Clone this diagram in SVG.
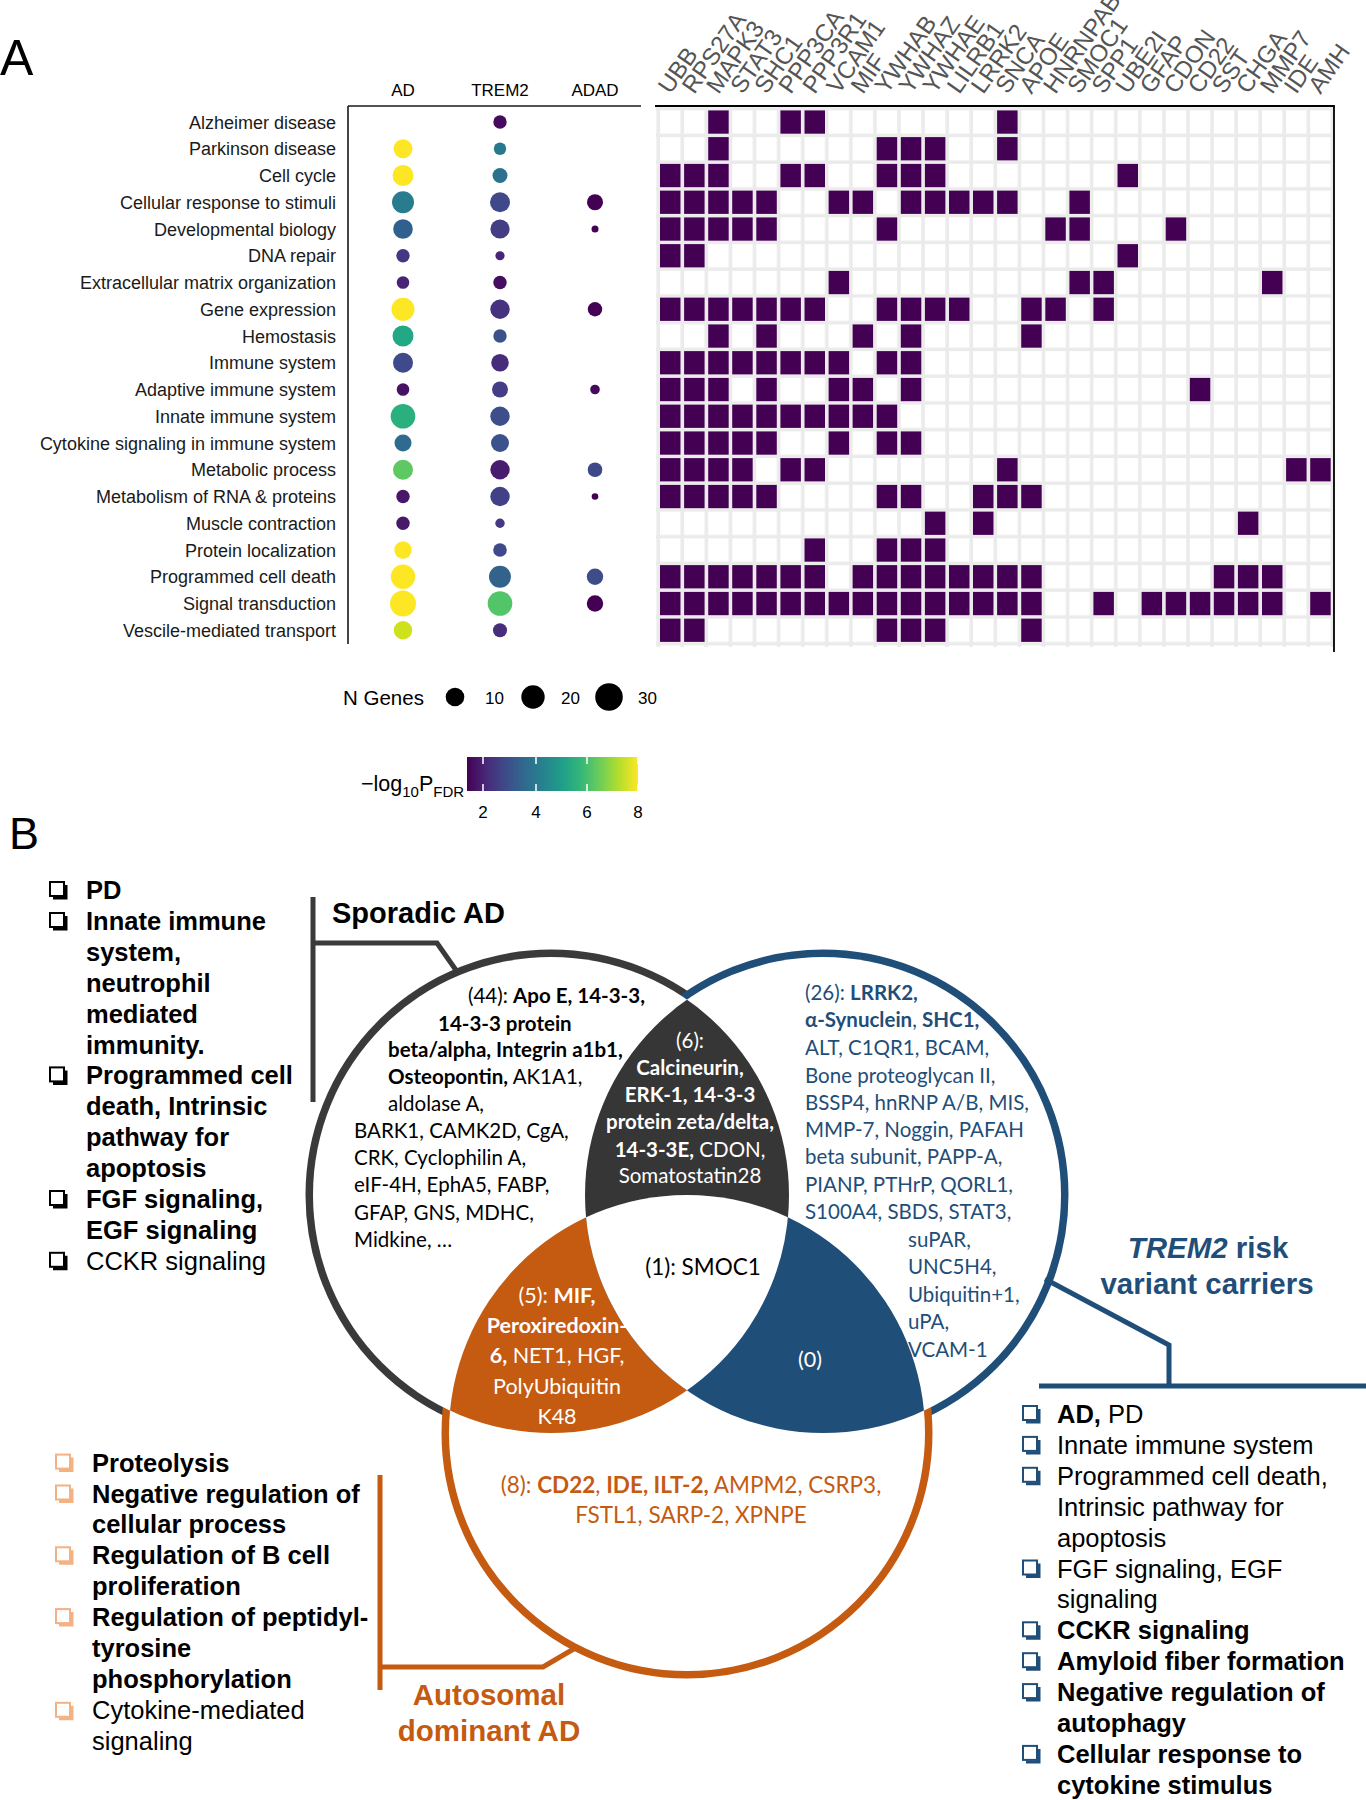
<svg xmlns="http://www.w3.org/2000/svg" xmlns:xlink="http://www.w3.org/1999/xlink" width="1366" height="1800" viewBox="0 0 1366 1800">
<style>
.a{font-family:"Liberation Sans",Arial,sans-serif}
.rl{font-family:"Liberation Sans",Arial,sans-serif;font-size:18px;fill:#1a1a1a;text-anchor:end}
.gn{font-family:"Liberation Sans",Arial,sans-serif;font-size:24px;fill:#555}
.v{font-family:Lato,"Open Sans",sans-serif;font-size:20.5px}
.vb{font-family:Lato,"Open Sans",sans-serif;font-size:21.5px}
.v8{font-family:Lato,"Open Sans",sans-serif;font-size:22.5px}
.b{font-weight:bold}
.li{font-family:"Liberation Sans",Arial,sans-serif;font-size:25.5px;fill:#000}
.br{fill:none;stroke-width:5}
</style>
<defs>
<pattern id="gridp" patternUnits="userSpaceOnUse" x="660" y="110.35" width="24.08" height="26.75">
<rect x="0" y="0" width="20.5" height="23.3" fill="#fff"/>
</pattern>
<rect id="cell" width="20.5" height="23.3" fill="#440154"/>
<linearGradient id="vir" x1="0" y1="0" x2="1" y2="0">
<stop offset="0" stop-color="#440154"/><stop offset="0.111" stop-color="#482878"/><stop offset="0.222" stop-color="#3E4A89"/><stop offset="0.333" stop-color="#31688E"/><stop offset="0.444" stop-color="#26828E"/><stop offset="0.556" stop-color="#1F9E89"/><stop offset="0.667" stop-color="#35B779"/><stop offset="0.778" stop-color="#6DCD59"/><stop offset="0.889" stop-color="#B4DE2C"/><stop offset="1" stop-color="#FDE725"/>
</linearGradient>
<symbol id="cb" overflow="visible"><rect x="1" y="1" width="14" height="14" fill="none" stroke="currentColor" stroke-width="2"/><path d="M15.5 4 h3 v14.5 h-14.5 v-3 h11.5 z" fill="currentColor"/></symbol>
<clipPath id="cBlack"><circle cx="551" cy="1195" r="238"/></clipPath>
<clipPath id="cBlue"><circle cx="823" cy="1195" r="238"/></clipPath>
<clipPath id="cOrange"><circle cx="687" cy="1433" r="238"/></clipPath>
</defs>
<rect width="1366" height="1800" fill="#fff"/>

<!-- Panel labels -->
<text class="a" x="0" y="75" font-size="50">A</text>
<text class="a" x="9" y="849" font-size="45">B</text>

<!-- Dot plot -->
<g id="dotplot">
<text class="a" x="403" y="96" font-size="17" text-anchor="middle">AD</text>
<text class="a" x="500" y="96" font-size="17" text-anchor="middle">TREM2</text>
<text class="a" x="595" y="96" font-size="17" text-anchor="middle">ADAD</text>
<path d="M348 106 H641 M348 106 V644" stroke="#1a1a1a" stroke-width="1.6" fill="none"/>
<text class="rl" x="336" y="128.5">Alzheimer disease</text>
<text class="rl" x="336" y="155.3">Parkinson disease</text>
<text class="rl" x="336" y="182">Cell cycle</text>
<text class="rl" x="336" y="208.8">Cellular response to stimuli</text>
<text class="rl" x="336" y="235.5">Developmental biology</text>
<text class="rl" x="336" y="262.3">DNA repair</text>
<text class="rl" x="336" y="289">Extracellular matrix organization</text>
<text class="rl" x="336" y="315.8">Gene expression</text>
<text class="rl" x="336" y="342.5">Hemostasis</text>
<text class="rl" x="336" y="369.3">Immune system</text>
<text class="rl" x="336" y="396">Adaptive immune system</text>
<text class="rl" x="336" y="422.8">Innate immune system</text>
<text class="rl" x="336" y="449.5">Cytokine signaling in immune system</text>
<text class="rl" x="336" y="476.3">Metabolic process</text>
<text class="rl" x="336" y="503">Metabolism of RNA &amp; proteins</text>
<text class="rl" x="336" y="529.8">Muscle contraction</text>
<text class="rl" x="336" y="556.5">Protein localization</text>
<text class="rl" x="336" y="583.3">Programmed cell death</text>
<text class="rl" x="336" y="610">Signal transduction</text>
<text class="rl" x="336" y="636.8">Vescile-mediated transport</text>
<circle cx="500" cy="122" r="6.7" fill="#460b5e"/>
<circle cx="403" cy="148.75" r="9.5" fill="#fde725"/><circle cx="500" cy="148.75" r="6.2" fill="#2a788e"/>
<circle cx="403" cy="175.5" r="10.5" fill="#fde725"/><circle cx="500" cy="175.5" r="7.5" fill="#2c728e"/>
<circle cx="403" cy="202.25" r="11" fill="#287c8e"/><circle cx="500" cy="202.25" r="10" fill="#3f4889"/><circle cx="595" cy="202.25" r="8" fill="#440154"/>
<circle cx="403" cy="229" r="9.8" fill="#30608d"/><circle cx="500" cy="229" r="9.6" fill="#433d84"/><circle cx="595" cy="229" r="3.5" fill="#440154"/>
<circle cx="403" cy="255.75" r="6.7" fill="#453882"/><circle cx="500" cy="255.75" r="4.6" fill="#482576"/>
<circle cx="403" cy="282.5" r="6.3" fill="#482475"/><circle cx="500" cy="282.5" r="6.7" fill="#470d60"/>
<circle cx="403" cy="309.25" r="11.5" fill="#fde725"/><circle cx="500" cy="309.25" r="9.7" fill="#46327e"/><circle cx="595" cy="309.25" r="7.2" fill="#440256"/>
<circle cx="403" cy="336" r="10.5" fill="#22a884"/><circle cx="500" cy="336" r="6.7" fill="#3b518b"/>
<circle cx="403" cy="362.75" r="10" fill="#3e4a89"/><circle cx="500" cy="362.75" r="8.8" fill="#472c7a"/>
<circle cx="403" cy="389.5" r="6.3" fill="#471164"/><circle cx="500" cy="389.5" r="8" fill="#433e85"/><circle cx="595" cy="389.5" r="4.8" fill="#460a5d"/>
<circle cx="403" cy="416.25" r="12.3" fill="#2ab07f"/><circle cx="500" cy="416.25" r="9.7" fill="#3d4e8a"/>
<circle cx="403" cy="443" r="8.5" fill="#2f6b8e"/><circle cx="500" cy="443" r="9" fill="#3b528b"/>
<circle cx="403" cy="469.75" r="10" fill="#5ec962"/><circle cx="500" cy="469.75" r="9.7" fill="#481c6e"/><circle cx="595" cy="469.75" r="7.3" fill="#3f4889"/>
<circle cx="403" cy="496.5" r="6.7" fill="#481769"/><circle cx="500" cy="496.5" r="9.7" fill="#424086"/><circle cx="595" cy="496.5" r="3.3" fill="#440154"/>
<circle cx="403" cy="523.25" r="6.7" fill="#48186a"/><circle cx="500" cy="523.25" r="4.7" fill="#443a83"/>
<circle cx="403" cy="550" r="8.7" fill="#fde725"/><circle cx="500" cy="550" r="6.8" fill="#3f4a8a"/>
<circle cx="403" cy="576.75" r="12.2" fill="#fde725"/><circle cx="500" cy="576.75" r="11" fill="#33638d"/><circle cx="595" cy="576.75" r="8.2" fill="#3e4c8a"/>
<circle cx="403" cy="603.5" r="13" fill="#fde725"/><circle cx="500" cy="603.5" r="12.3" fill="#52c569"/><circle cx="595" cy="603.5" r="8.2" fill="#440154"/>
<circle cx="403" cy="630.25" r="9.2" fill="#cde11d"/><circle cx="500" cy="630.25" r="7" fill="#472e7c"/>
</g>

<!-- Legends -->
<g id="legend">
<text class="a" x="343" y="705" font-size="20.5">N Genes</text>
<circle cx="455" cy="697" r="9.3" fill="#000"/><text class="a" x="485" y="704" font-size="17">10</text>
<circle cx="533" cy="697" r="11.7" fill="#000"/><text class="a" x="561" y="704" font-size="17">20</text>
<circle cx="609" cy="697" r="13.8" fill="#000"/><text class="a" x="638" y="704" font-size="17">30</text>
<text class="a" x="361" y="791" font-size="21.5">−log<tspan font-size="15" dy="6">10</tspan><tspan dy="-6">P</tspan><tspan font-size="15" dy="6">FDR</tspan></text>
<rect x="467" y="757" width="171" height="34" fill="url(#vir)"/>
<path d="M483 757v7M536 757v7M587 757v7M638 757v7M483 791v-7M536 791v-7M587 791v-7M638 791v-7" stroke="#fff" stroke-width="1.5"/>
<text class="a" x="483" y="818" font-size="17" text-anchor="middle">2</text>
<text class="a" x="536" y="818" font-size="17" text-anchor="middle">4</text>
<text class="a" x="587" y="818" font-size="17" text-anchor="middle">6</text>
<text class="a" x="638" y="818" font-size="17" text-anchor="middle">8</text>
</g>

<!-- Heatmap -->
<g id="heatmap">
<rect x="656" y="107" width="678" height="540" fill="#ebebeb"/>
<rect x="656" y="107" width="678" height="540" fill="url(#gridp)"/>
<path d="M655 106H1334V652" stroke="#000" stroke-width="1.8" fill="none"/>
<g transform="translate(0,110.4)"><use href="#cell" x="708.2"/><use href="#cell" x="780.4"/><use href="#cell" x="804.5"/><use href="#cell" x="997.1"/></g>
<g transform="translate(0,137.1)"><use href="#cell" x="708.2"/><use href="#cell" x="876.7"/><use href="#cell" x="900.8"/><use href="#cell" x="924.9"/><use href="#cell" x="997.1"/></g>
<g transform="translate(0,163.9)"><use href="#cell" x="660"/><use href="#cell" x="684.1"/><use href="#cell" x="708.2"/><use href="#cell" x="780.4"/><use href="#cell" x="804.5"/><use href="#cell" x="876.7"/><use href="#cell" x="900.8"/><use href="#cell" x="924.9"/><use href="#cell" x="1117.5"/></g>
<g transform="translate(0,190.6)"><use href="#cell" x="660"/><use href="#cell" x="684.1"/><use href="#cell" x="708.2"/><use href="#cell" x="732.2"/><use href="#cell" x="756.3"/><use href="#cell" x="828.6"/><use href="#cell" x="852.6"/><use href="#cell" x="900.8"/><use href="#cell" x="924.9"/><use href="#cell" x="949"/><use href="#cell" x="973"/><use href="#cell" x="997.1"/><use href="#cell" x="1069.4"/></g>
<g transform="translate(0,217.4)"><use href="#cell" x="660"/><use href="#cell" x="684.1"/><use href="#cell" x="708.2"/><use href="#cell" x="732.2"/><use href="#cell" x="756.3"/><use href="#cell" x="876.7"/><use href="#cell" x="1045.3"/><use href="#cell" x="1069.4"/><use href="#cell" x="1165.7"/></g>
<g transform="translate(0,244.1)"><use href="#cell" x="660"/><use href="#cell" x="684.1"/><use href="#cell" x="1117.5"/></g>
<g transform="translate(0,270.9)"><use href="#cell" x="828.6"/><use href="#cell" x="1069.4"/><use href="#cell" x="1093.4"/><use href="#cell" x="1262"/></g>
<g transform="translate(0,297.6)"><use href="#cell" x="660"/><use href="#cell" x="684.1"/><use href="#cell" x="708.2"/><use href="#cell" x="732.2"/><use href="#cell" x="756.3"/><use href="#cell" x="780.4"/><use href="#cell" x="804.5"/><use href="#cell" x="876.7"/><use href="#cell" x="900.8"/><use href="#cell" x="924.9"/><use href="#cell" x="949"/><use href="#cell" x="1021.2"/><use href="#cell" x="1045.3"/><use href="#cell" x="1093.4"/></g>
<g transform="translate(0,324.4)"><use href="#cell" x="708.2"/><use href="#cell" x="756.3"/><use href="#cell" x="852.6"/><use href="#cell" x="900.8"/><use href="#cell" x="1021.2"/></g>
<g transform="translate(0,351.1)"><use href="#cell" x="660"/><use href="#cell" x="684.1"/><use href="#cell" x="708.2"/><use href="#cell" x="732.2"/><use href="#cell" x="756.3"/><use href="#cell" x="780.4"/><use href="#cell" x="804.5"/><use href="#cell" x="828.6"/><use href="#cell" x="876.7"/><use href="#cell" x="900.8"/></g>
<g transform="translate(0,377.9)"><use href="#cell" x="660"/><use href="#cell" x="684.1"/><use href="#cell" x="708.2"/><use href="#cell" x="756.3"/><use href="#cell" x="828.6"/><use href="#cell" x="852.6"/><use href="#cell" x="900.8"/><use href="#cell" x="1189.8"/></g>
<g transform="translate(0,404.6)"><use href="#cell" x="660"/><use href="#cell" x="684.1"/><use href="#cell" x="708.2"/><use href="#cell" x="732.2"/><use href="#cell" x="756.3"/><use href="#cell" x="780.4"/><use href="#cell" x="804.5"/><use href="#cell" x="828.6"/><use href="#cell" x="852.6"/><use href="#cell" x="876.7"/></g>
<g transform="translate(0,431.4)"><use href="#cell" x="660"/><use href="#cell" x="684.1"/><use href="#cell" x="708.2"/><use href="#cell" x="732.2"/><use href="#cell" x="756.3"/><use href="#cell" x="828.6"/><use href="#cell" x="876.7"/><use href="#cell" x="900.8"/></g>
<g transform="translate(0,458.1)"><use href="#cell" x="660"/><use href="#cell" x="684.1"/><use href="#cell" x="708.2"/><use href="#cell" x="732.2"/><use href="#cell" x="780.4"/><use href="#cell" x="804.5"/><use href="#cell" x="997.1"/><use href="#cell" x="1286.1"/><use href="#cell" x="1310.2"/></g>
<g transform="translate(0,484.9)"><use href="#cell" x="660"/><use href="#cell" x="684.1"/><use href="#cell" x="708.2"/><use href="#cell" x="732.2"/><use href="#cell" x="756.3"/><use href="#cell" x="876.7"/><use href="#cell" x="900.8"/><use href="#cell" x="973"/><use href="#cell" x="997.1"/><use href="#cell" x="1021.2"/></g>
<g transform="translate(0,511.6)"><use href="#cell" x="924.9"/><use href="#cell" x="973"/><use href="#cell" x="1237.9"/></g>
<g transform="translate(0,538.4)"><use href="#cell" x="804.5"/><use href="#cell" x="876.7"/><use href="#cell" x="900.8"/><use href="#cell" x="924.9"/></g>
<g transform="translate(0,565.1)"><use href="#cell" x="660"/><use href="#cell" x="684.1"/><use href="#cell" x="708.2"/><use href="#cell" x="732.2"/><use href="#cell" x="756.3"/><use href="#cell" x="780.4"/><use href="#cell" x="804.5"/><use href="#cell" x="852.6"/><use href="#cell" x="876.7"/><use href="#cell" x="900.8"/><use href="#cell" x="924.9"/><use href="#cell" x="949"/><use href="#cell" x="973"/><use href="#cell" x="997.1"/><use href="#cell" x="1021.2"/><use href="#cell" x="1213.8"/><use href="#cell" x="1237.9"/><use href="#cell" x="1262"/></g>
<g transform="translate(0,591.9)"><use href="#cell" x="660"/><use href="#cell" x="684.1"/><use href="#cell" x="708.2"/><use href="#cell" x="732.2"/><use href="#cell" x="756.3"/><use href="#cell" x="780.4"/><use href="#cell" x="804.5"/><use href="#cell" x="828.6"/><use href="#cell" x="852.6"/><use href="#cell" x="876.7"/><use href="#cell" x="900.8"/><use href="#cell" x="924.9"/><use href="#cell" x="949"/><use href="#cell" x="973"/><use href="#cell" x="997.1"/><use href="#cell" x="1021.2"/><use href="#cell" x="1093.4"/><use href="#cell" x="1141.6"/><use href="#cell" x="1165.7"/><use href="#cell" x="1189.8"/><use href="#cell" x="1213.8"/><use href="#cell" x="1237.9"/><use href="#cell" x="1262"/><use href="#cell" x="1310.2"/></g>
<g transform="translate(0,618.6)"><use href="#cell" x="660"/><use href="#cell" x="684.1"/><use href="#cell" x="876.7"/><use href="#cell" x="900.8"/><use href="#cell" x="924.9"/><use href="#cell" x="1021.2"/></g>
<text class="gn" transform="translate(670.3,95) rotate(-55)">UBB</text>
<text class="gn" transform="translate(694.3,95) rotate(-55)">RPS27A</text>
<text class="gn" transform="translate(718.4,95) rotate(-55)">MAPK3</text>
<text class="gn" transform="translate(742.5,95) rotate(-55)">STAT3</text>
<text class="gn" transform="translate(766.6,95) rotate(-55)">SHC1</text>
<text class="gn" transform="translate(790.7,95) rotate(-55)">PPP3CA</text>
<text class="gn" transform="translate(814.7,95) rotate(-55)">PPP3R1</text>
<text class="gn" transform="translate(838.8,95) rotate(-55)">VCAM1</text>
<text class="gn" transform="translate(862.9,95) rotate(-55)">MIF</text>
<text class="gn" transform="translate(887,95) rotate(-55)">YWHAB</text>
<text class="gn" transform="translate(911.1,95) rotate(-55)">YWHAZ</text>
<text class="gn" transform="translate(935.1,95) rotate(-55)">YWHAE</text>
<text class="gn" transform="translate(959.2,95) rotate(-55)">LILRB1</text>
<text class="gn" transform="translate(983.3,95) rotate(-55)">LRRK2</text>
<text class="gn" transform="translate(1007.4,95) rotate(-55)">SNCA</text>
<text class="gn" transform="translate(1031.5,95) rotate(-55)">APOE</text>
<text class="gn" transform="translate(1055.5,95) rotate(-55)">HNRNPAB</text>
<text class="gn" transform="translate(1079.6,95) rotate(-55)">SMOC1</text>
<text class="gn" transform="translate(1103.7,95) rotate(-55)">SPP1</text>
<text class="gn" transform="translate(1127.8,95) rotate(-55)">UBE2I</text>
<text class="gn" transform="translate(1151.9,95) rotate(-55)">GFAP</text>
<text class="gn" transform="translate(1175.9,95) rotate(-55)">CDON</text>
<text class="gn" transform="translate(1200,95) rotate(-55)">CD22</text>
<text class="gn" transform="translate(1224.1,95) rotate(-55)">SST</text>
<text class="gn" transform="translate(1248.2,95) rotate(-55)">CHGA</text>
<text class="gn" transform="translate(1272.3,95) rotate(-55)">MMP7</text>
<text class="gn" transform="translate(1296.3,95) rotate(-55)">IDE</text>
<text class="gn" transform="translate(1320.4,95) rotate(-55)">AMH</text>
</g>

<!-- Venn diagram -->
<g id="venn">
<circle cx="551" cy="1195" r="238" fill="none" stroke="#3a3a3a" stroke-width="15"/>
<circle cx="823" cy="1195" r="238" fill="none" stroke="#1f4e79" stroke-width="15"/>
<circle cx="687" cy="1433" r="238" fill="none" stroke="#c55a11" stroke-width="15"/>
<circle cx="551" cy="1195" r="238" fill="#fff"/>
<circle cx="823" cy="1195" r="238" fill="#fff"/>
<circle cx="687" cy="1433" r="238" fill="#fff"/>
<g clip-path="url(#cBlue)"><circle cx="551" cy="1195" r="238" fill="#363636"/></g>
<g clip-path="url(#cOrange)"><circle cx="551" cy="1195" r="238" fill="#c55a11"/></g>
<g clip-path="url(#cOrange)"><circle cx="823" cy="1195" r="238" fill="#1f4e79"/></g>
<g clip-path="url(#cOrange)"><g clip-path="url(#cBlue)"><circle cx="551" cy="1195" r="238" fill="#fff"/></g></g>
</g>

<g id="connectors">
<path class="br" stroke="#3a3a3a" d="M313 897V1102M313 943H437L458 973"/>
<path class="br" stroke="#1f4e79" d="M1045 1279L1169 1345V1386M1039 1386H1366"/>
<path class="br" stroke="#c55a11" d="M380 1475V1690M380 1667H543L577 1647"/>
</g>

<g id="set-sporadic">
<text class="a b" x="332" y="923" font-size="29">Sporadic AD</text>
<g class="v" fill="#000">
<text x="468" y="1003">(44): <tspan class="b">Apo E, 14-3-3,</tspan></text>
<text x="438" y="1031" class="b">14-3-3 protein</text>
<text x="388" y="1057" class="b">beta/alpha, Integrin a1b1,</text>
<text x="388" y="1084"><tspan class="b">Osteopontin,</tspan> AK1A1,</text>
<text x="388" y="1111">aldolase A,</text>
<text x="354" y="1138">BARK1, CAMK2D, CgA,</text>
<text x="354" y="1165">CRK, Cyclophilin A,</text>
<text x="354" y="1192">eIF-4H, EphA5, FABP,</text>
<text x="354" y="1220">GFAP, GNS, MDHC,</text>
<text x="354" y="1247">Midkine, …</text>
</g>
</g>

<g id="set-shared6" class="v" fill="#fff" text-anchor="middle">
<text x="690" y="1048">(6):</text>
<text x="690" y="1075" class="b">Calcineurin,</text>
<text x="690" y="1102" class="b">ERK-1, 14-3-3</text>
<text x="690" y="1129" class="b">protein zeta/delta,</text>
<text x="690" y="1157"><tspan class="b">14-3-3E,</tspan> CDON,</text>
<text x="690" y="1183">Somatostatin28</text>
</g>

<g id="set-all" class="v8" fill="#000" text-anchor="middle">
<text x="703" y="1275">(1): SMOC1</text>
</g>

<g id="set-shared5" class="vb" fill="#fff" text-anchor="middle">
<text x="557" y="1303">(5): <tspan class="b">MIF,</tspan></text>
<text x="557" y="1333" class="b">Peroxiredoxin-</text>
<text x="557" y="1363"><tspan class="b">6,</tspan> NET1, HGF,</text>
<text x="557" y="1394">PolyUbiquitin</text>
<text x="557" y="1424">K48</text>
</g>

<g id="set-shared0" class="vb" fill="#fff" text-anchor="middle">
<text x="810" y="1367">(0)</text>
</g>

<g id="set-trem2" class="v" fill="#1f4e79">
<text x="805" y="1000">(26): <tspan class="b">LRRK2,</tspan></text>
<text x="805" y="1027"><tspan class="b">α-Synuclein</tspan>, <tspan class="b">SHC1,</tspan></text>
<text x="805" y="1055">ALT, C1QR1, BCAM,</text>
<text x="805" y="1083">Bone proteoglycan II,</text>
<text x="805" y="1110">BSSP4, hnRNP A/B, MIS,</text>
<text x="805" y="1137">MMP-7, Noggin, PAFAH</text>
<text x="805" y="1164">beta subunit, PAPP-A,</text>
<text x="805" y="1192">PIANP, PTHrP, QORL1,</text>
<text x="805" y="1219">S100A4, SBDS, STAT3,</text>
<text x="908" y="1247">suPAR,</text>
<text x="908" y="1274">UNC5H4,</text>
<text x="908" y="1302">Ubiquitin+1,</text>
<text x="908" y="1329">uPA,</text>
<text x="908" y="1357">VCAM-1</text>
<text class="a b" x="1208" y="1258" font-size="29.5" text-anchor="middle"><tspan font-style="italic">TREM2</tspan> risk</text>
<text class="a b" x="1207" y="1294" font-size="29.5" text-anchor="middle">variant carriers</text>
</g>

<g id="set-adad" fill="#c55a11">
<text class="v8" x="691" y="1493" text-anchor="middle">(8): <tspan class="b">CD22</tspan>, <tspan class="b">IDE, ILT-2,</tspan> AMPM2, CSRP3,</text>
<text class="v8" x="691" y="1523" text-anchor="middle">FSTL1, SARP-2, XPNPE</text>
<text class="a b" x="489" y="1705" font-size="29.5" text-anchor="middle">Autosomal</text>
<text class="a b" x="489" y="1741" font-size="29.5" text-anchor="middle">dominant AD</text>
</g>

<g id="list-sporadic">
<g color="#000">
<use href="#cb" x="49" y="881" width="20" height="20"/>
<use href="#cb" x="49" y="912" width="20" height="20"/>
<use href="#cb" x="49" y="1066.4" width="20" height="20"/>
<use href="#cb" x="49" y="1190" width="20" height="20"/>
<use href="#cb" x="49" y="1251.8" width="20" height="20"/>
</g>
<text class="li b" x="86" y="899">PD</text>
<text class="li b" x="86" y="929.9">Innate immune</text>
<text class="li b" x="86" y="960.8">system,</text>
<text class="li b" x="86" y="991.7">neutrophil</text>
<text class="li b" x="86" y="1022.6">mediated</text>
<text class="li b" x="86" y="1053.5">immunity.</text>
<text class="li b" x="86" y="1084.4">Programmed cell</text>
<text class="li b" x="86" y="1115.3">death, Intrinsic</text>
<text class="li b" x="86" y="1146.2">pathway for</text>
<text class="li b" x="86" y="1177.1">apoptosis</text>
<text class="li b" x="86" y="1208">FGF signaling,</text>
<text class="li b" x="86" y="1238.9">EGF signaling</text>
<text class="li" x="86" y="1269.8">CCKR signaling</text>
</g>

<g id="list-adad">
<g color="#f4b183">
<use href="#cb" x="55" y="1453.6" width="20" height="20"/>
<use href="#cb" x="55" y="1484.5" width="20" height="20"/>
<use href="#cb" x="55" y="1546.3" width="20" height="20"/>
<use href="#cb" x="55" y="1608.1" width="20" height="20"/>
<use href="#cb" x="55" y="1701.8" width="20" height="20"/>
</g>
<text class="li b" x="92" y="1471.6">Proteolysis</text>
<text class="li b" x="92" y="1502.5">Negative regulation of</text>
<text class="li b" x="92" y="1533.4">cellular process</text>
<text class="li b" x="92" y="1564.3">Regulation of B cell</text>
<text class="li b" x="92" y="1595.2">proliferation</text>
<text class="li b" x="92" y="1626.1">Regulation of peptidyl-</text>
<text class="li b" x="92" y="1657">tyrosine</text>
<text class="li b" x="92" y="1687.9">phosphorylation</text>
<text class="li" x="92" y="1718.8">Cytokine-mediated</text>
<text class="li" x="92" y="1749.7">signaling</text>
</g>

<g id="list-trem2">
<g color="#1f4e79">
<use href="#cb" x="1022" y="1405" width="20" height="20"/>
<use href="#cb" x="1022" y="1435.9" width="20" height="20"/>
<use href="#cb" x="1022" y="1466.8" width="20" height="20"/>
<use href="#cb" x="1022" y="1559.5" width="20" height="20"/>
<use href="#cb" x="1022" y="1621.3" width="20" height="20"/>
<use href="#cb" x="1022" y="1652.2" width="20" height="20"/>
<use href="#cb" x="1022" y="1683.1" width="20" height="20"/>
<use href="#cb" x="1022" y="1744.9" width="20" height="20"/>
</g>
<text class="li" x="1057" y="1423"><tspan class="b">AD,</tspan> PD</text>
<text class="li" x="1057" y="1453.9">Innate immune system</text>
<text class="li" x="1057" y="1484.8">Programmed cell death,</text>
<text class="li" x="1057" y="1515.7">Intrinsic pathway for</text>
<text class="li" x="1057" y="1546.6">apoptosis</text>
<text class="li" x="1057" y="1577.5">FGF signaling, EGF</text>
<text class="li" x="1057" y="1608.4">signaling</text>
<text class="li b" x="1057" y="1639.3">CCKR signaling</text>
<text class="li b" x="1057" y="1670.2">Amyloid fiber formation</text>
<text class="li b" x="1057" y="1701.1">Negative regulation of</text>
<text class="li b" x="1057" y="1732">autophagy</text>
<text class="li b" x="1057" y="1762.9">Cellular response to</text>
<text class="li b" x="1057" y="1793.8">cytokine stimulus</text>
</g>
</svg>
